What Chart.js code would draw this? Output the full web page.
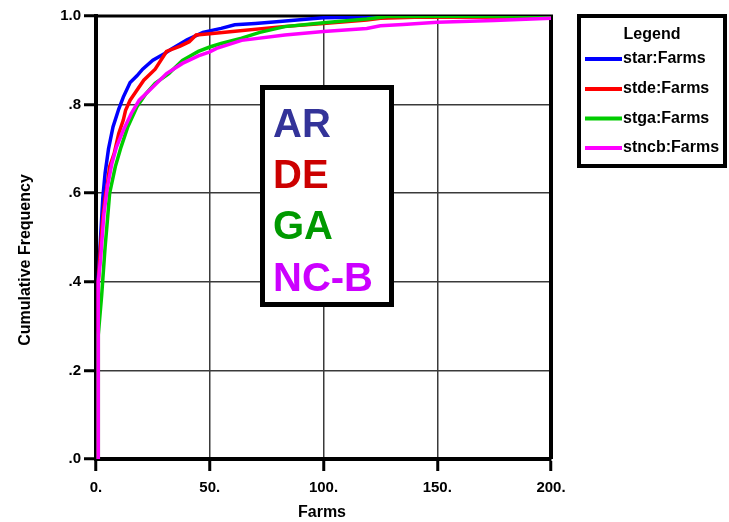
<!DOCTYPE html>
<html>
<head>
<meta charset="utf-8">
<script src="https://cdn.jsdelivr.net/npm/chart.js@4.4.1/dist/chart.umd.min.js"></script>
<style>
  html, body { margin: 0; padding: 0; background: #fff; }
  #wrap { width: 729px; height: 522px; }
</style>
</head>
<body>
<div id="wrap"><canvas id="chart" width="729" height="522"></canvas></div>
<script>
"use strict";

const SERIES_LABELS = ["star:Farms", "stde:Farms", "stga:Farms", "stncb:Farms"];
const SERIES_COLORS = ["#0000ff", "#ff0000", "#00cc00", "#ff00ff"];

// cumulative frequency curves (x = farms, y = cum. freq.)
const starX = [1, 1, 2, 3, 4, 5.5, 7.5, 10, 12, 15, 18, 20.5, 25, 30, 33, 40, 47, 55, 61, 70, 82, 100, 120, 140, 200];
const starY = [0, 0.41, 0.5, 0.59, 0.645, 0.70, 0.75, 0.79, 0.817, 0.85, 0.865, 0.88, 0.90, 0.915, 0.925, 0.946, 0.963, 0.972, 0.98, 0.983, 0.988, 0.996, 0.998, 1.0, 1.0];

const stdeX = [1, 1, 2, 3, 4, 5, 6, 8, 10, 12, 13, 15, 17, 21, 26, 31, 37, 41, 44, 50, 60, 82, 100, 119, 125, 140, 200];
const stdeY = [0, 0.40, 0.48, 0.546, 0.59, 0.62, 0.66, 0.69, 0.735, 0.765, 0.787, 0.81, 0.825, 0.855, 0.88, 0.92, 0.932, 0.942, 0.957, 0.96, 0.965, 0.976, 0.983, 0.991, 0.995, 0.997, 0.998];

const stgaX = [1, 1, 2.5, 4, 5, 6, 8.5, 11, 14, 18, 22, 26, 32, 38, 45, 50, 55, 64, 72, 83, 100, 119, 128, 200];
const stgaY = [0, 0.28, 0.37, 0.478, 0.538, 0.6, 0.66, 0.704, 0.75, 0.795, 0.825, 0.848, 0.87, 0.90, 0.92, 0.93, 0.938, 0.95, 0.963, 0.976, 0.985, 0.993, 0.999, 1.0];

const stncbX = [1, 1, 2, 2.5, 3.5, 5, 7, 9, 12, 15.5, 19, 25, 31, 38, 45, 50, 53, 64, 83, 100, 119, 125, 135, 150, 175, 200];
const stncbY = [0, 0.40, 0.45, 0.486, 0.554, 0.614, 0.667, 0.704, 0.742, 0.78, 0.81, 0.84, 0.87, 0.893, 0.91, 0.919, 0.927, 0.945, 0.957, 0.965, 0.972, 0.978, 0.981, 0.986, 0.99, 0.995];

const X_TICK_LABELS = ["0.", "50.", "100.", "150.", "200."];
const Y_TICK_LABELS = [".0", ".2", ".4", ".6", ".8", "1.0"];

const BOX_LABELS = ["AR", "DE", "GA", "NC-B"];
const BOX_COLORS = ["#333399", "#cc0000", "#009900", "#cc00ff"];

const FONT = "'Liberation Sans', Arial, sans-serif";

const pts = (xs, ys) => xs.map((x, i) => ({ x, y: ys[i] }));
const allSeries = [pts(starX, starY), pts(stdeX, stdeY), pts(stgaX, stgaY), pts(stncbX, stncbY)];

// frame top/right edges, under the curves
const framePlugin = {
  id: "frame",
  beforeDatasetsDraw(chart) {
    const { ctx, chartArea: a } = chart;
    ctx.save();
    ctx.strokeStyle = "#000";
    ctx.lineWidth = 3;
    ctx.beginPath();
    ctx.moveTo(a.left - 2, a.top);
    ctx.lineTo(a.right + 2, a.top);
    ctx.stroke();
    ctx.lineWidth = 4;
    ctx.beginPath();
    ctx.moveTo(a.right, a.top);
    ctx.lineTo(a.right, a.bottom);
    ctx.stroke();
    ctx.restore();
  },
};

// titles, label box and legend
const overlayPlugin = {
  id: "overlay",
  afterDraw(chart) {
    const { ctx } = chart;
    ctx.save();

    // axis titles
    ctx.fillStyle = "#000";
    ctx.font = `bold 16px ${FONT}`;
    ctx.textAlign = "center";
    ctx.textBaseline = "alphabetic";
    ctx.fillText("Farms", 322, 517);
    ctx.save();
    ctx.translate(30, 260);
    ctx.rotate(-Math.PI / 2);
    ctx.fillText("Cumulative Frequency", 0, 0);
    ctx.restore();

    // state label box
    ctx.fillStyle = "#fff";
    ctx.fillRect(262.5, 87.5, 129, 217);
    ctx.strokeStyle = "#000";
    ctx.lineWidth = 5;
    ctx.strokeRect(262.5, 87.5, 129, 217);
    ctx.font = `bold 40px ${FONT}`;
    ctx.textAlign = "left";
    const baselines = [137, 188, 238.5, 290.5];
    BOX_LABELS.forEach((t, i) => {
      ctx.fillStyle = BOX_COLORS[i];
      ctx.fillText(t, 273, baselines[i]);
    });

    // legend
    ctx.fillStyle = "#fff";
    ctx.fillRect(579, 16, 146, 150);
    ctx.strokeStyle = "#000";
    ctx.lineWidth = 4;
    ctx.strokeRect(579, 16, 146, 150);
    ctx.fillStyle = "#000";
    ctx.font = `bold 16px ${FONT}`;
    ctx.textAlign = "center";
    ctx.textBaseline = "middle";
    ctx.fillText("Legend", 652, 35);
    ctx.textAlign = "left";
    const rows = [59, 89, 118.5, 148];
    SERIES_LABELS.forEach((t, i) => {
      ctx.strokeStyle = SERIES_COLORS[i];
      ctx.lineWidth = 4;
      ctx.beginPath();
      ctx.moveTo(585, rows[i]);
      ctx.lineTo(622, rows[i]);
      ctx.stroke();
      ctx.fillStyle = "#000";
      ctx.fillText(t, 623, rows[i]);
    });

    ctx.restore();
  },
};

const tickFont = { family: FONT, weight: "bold", size: 15 };
const grid = { color: "#3a3a3a", lineWidth: 1.5, tickLength: 12, tickWidth: 3, tickColor: "#000" };

new Chart(document.getElementById("chart"), {
  type: "line",
  data: {
    datasets: allSeries.map((data, i) => ({
      label: SERIES_LABELS[i],
      data,
      borderColor: SERIES_COLORS[i],
      borderWidth: 3.5,
      pointRadius: 0,
      tension: 0,
      fill: false,
      order: SERIES_LABELS.length - i,
    })),
  },
  options: {
    responsive: false,
    animation: false,
    layout: { padding: { left: 0, top: 16, right: 178, bottom: 0 } },
    plugins: { legend: { display: false }, tooltip: { enabled: false } },
    scales: {
      x: {
        type: "linear",
        min: 0,
        max: 200,
        ticks: {
          stepSize: 50,
          color: "#000",
          font: tickFont,
          padding: 8,
          maxRotation: 0,
          autoSkip: false,
          callback: (v, i) => X_TICK_LABELS[i],
        },
        grid,
        border: { color: "#000", width: 4 },
        afterFit: (s) => { s.height = 63; },
      },
      y: {
        min: 0,
        max: 1,
        ticks: {
          stepSize: 0.2,
          color: "#000",
          font: tickFont,
          padding: 3,
          autoSkip: false,
          callback: (v, i) => Y_TICK_LABELS[i],
        },
        grid,
        border: { color: "#000", width: 4 },
        afterFit: (s) => { s.width = 96; },
      },
    },
  },
  plugins: [framePlugin, overlayPlugin],
});
</script>
</body>
</html>
